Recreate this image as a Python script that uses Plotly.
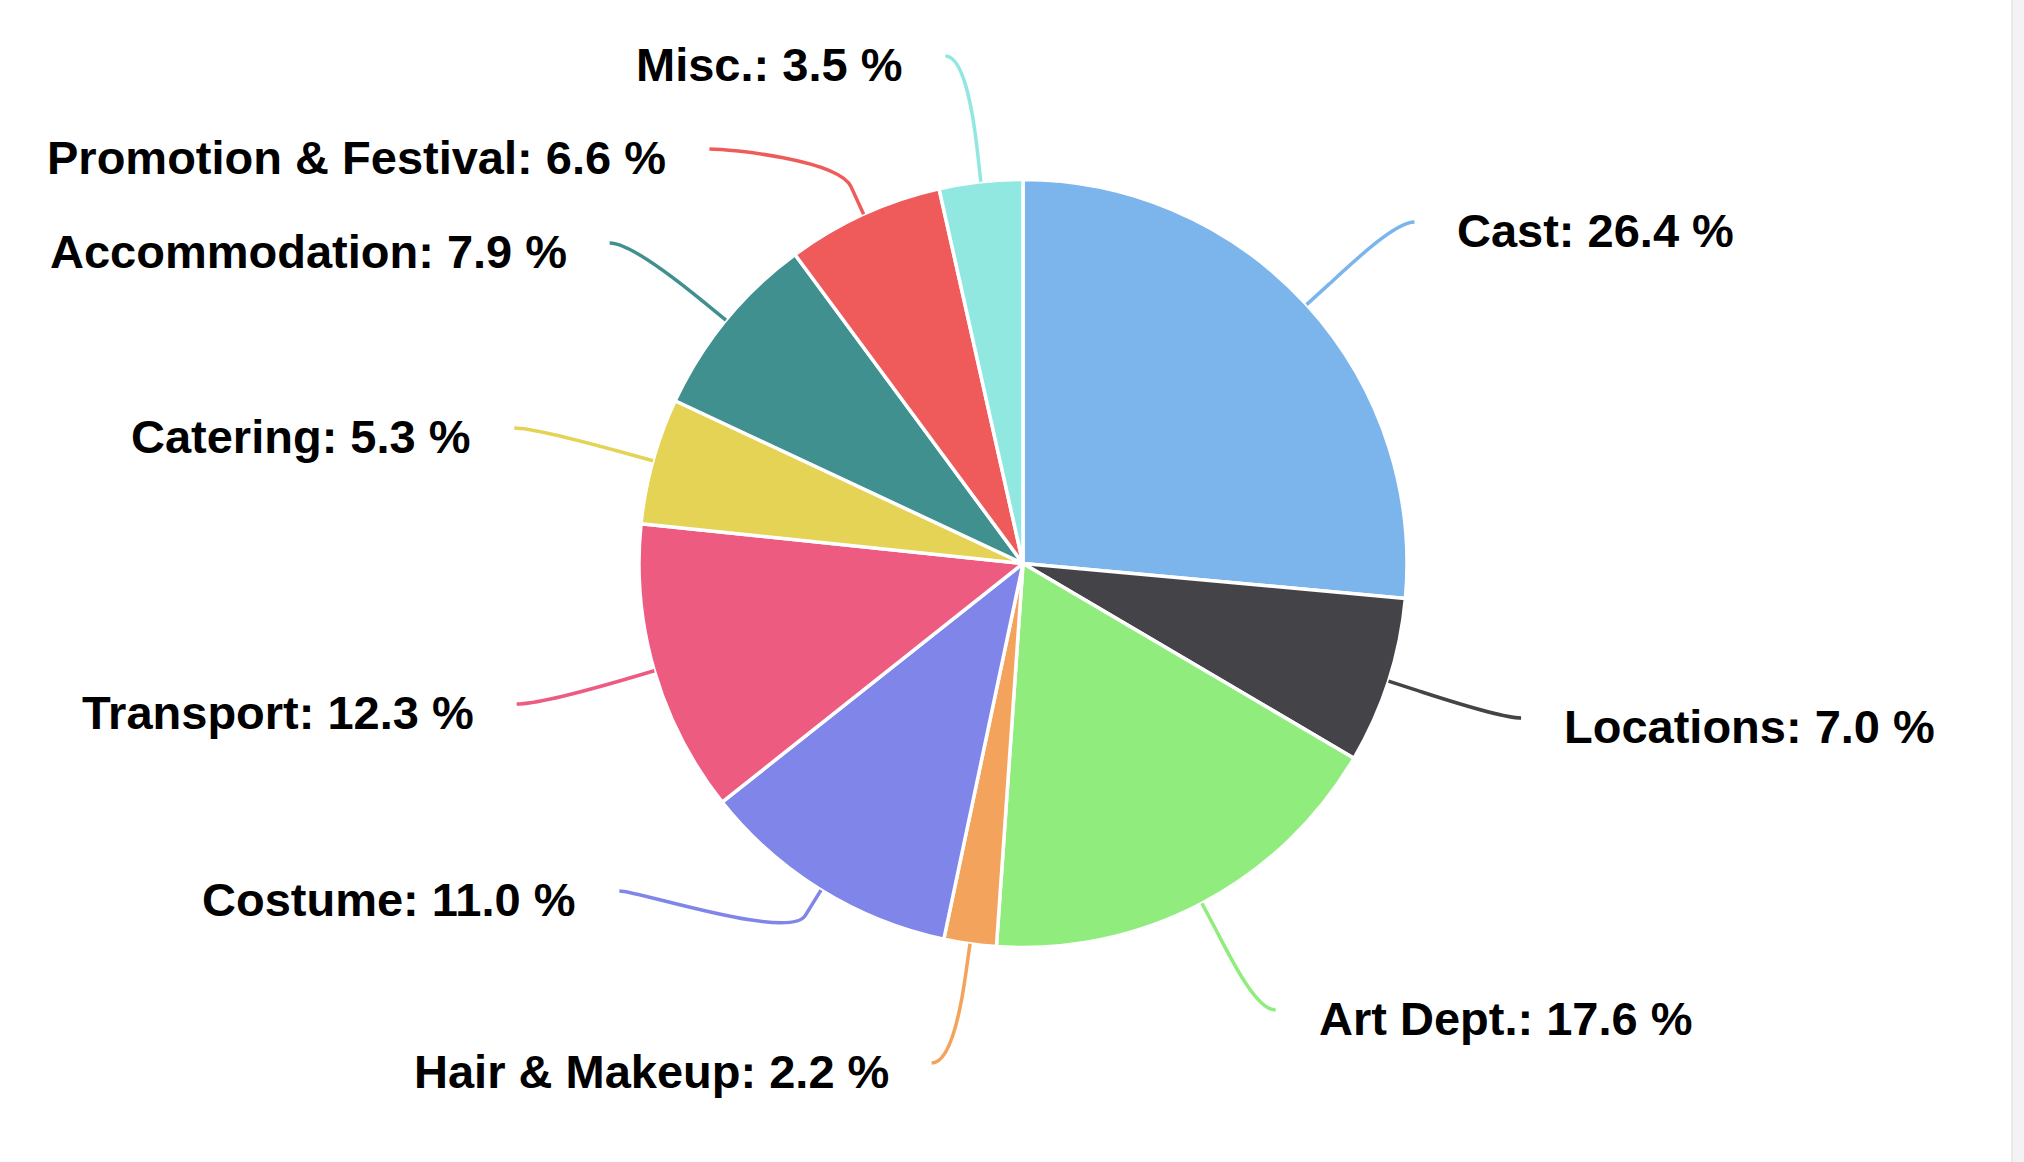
import numpy as np
import plotly.graph_objects as go

# ---------------- data ----------------
CATEGORIES = ["Cast", "Locations", "Art Dept.", "Hair & Makeup", "Costume",
              "Transport", "Catering", "Accommodation", "Promotion & Festival", "Misc."]
VALUES = [26.4, 7.0, 17.6, 2.2, 11.0, 12.3, 5.3, 7.9, 6.6, 3.5]

# ---------------- styling / layout ----------------
COLORS = ["#7cb5ec", "#444448", "#90ed7d", "#f4a35c", "#8085e9",
          "#ee5b80", "#e4d354", "#40908f", "#ef5a5b", "#91e8e1"]
# vertical placement of the data labels (pixels from top), as arranged in the reference
LABEL_Y = [222, 718, 1010, 1063, 891, 704, 428, 243, 149, 56]
LABEL_X_NUDGE = [0, 0, -8, 31, 0, -4, -5, -4, -3, 0]

W, H = 2024, 1162
CX, CY, R = 1023, 563.5, 384
LABEL_R = 512
PAD = 10
BREAK = 30
TEXT_GAP = 41
FONT = "Liberation Sans, Arial, sans-serif"

fig = go.Figure()

fig.add_trace(go.Pie(
    labels=CATEGORIES, values=VALUES, sort=False, direction="clockwise", rotation=0,
    marker=dict(colors=COLORS, line=dict(color="white", width=3.5)),
    textinfo="none", hoverinfo="label+percent", showlegend=False,
    domain=dict(x=[(CX - R) / W, (CX + R) / W], y=[1 - (CY + R) / H, 1 - (CY - R) / H]),
))

total = float(np.sum(VALUES))
cum = np.cumsum([0] + VALUES[:-1])
shapes = []
annotations = []
for i, (cat, v) in enumerate(zip(CATEGORIES, VALUES)):
    mid = (cum[i] + v / 2) / total * 2 * np.pi
    dx, dy = np.sin(mid), -np.cos(mid)
    left = dx < 0
    sgn = -1 if left else 1
    Tx, Ty = CX + R * dx, CY + R * dy
    Bx, By = CX + (R + BREAK) * dx, CY + (R + BREAK) * dy
    Ly = LABEL_Y[i]
    rel = np.clip((Ly - CY) / LABEL_R, -1, 1)
    Lx = CX + sgn * (np.sqrt(1 - rel ** 2) * LABEL_R + PAD) + LABEL_X_NUDGE[i]
    c1x = Lx - sgn * 20
    path = (f"M {Lx:.1f},{Ly:.1f} C {c1x:.1f},{Ly:.1f} {2*Bx-Tx:.1f},{2*By-Ty:.1f} "
            f"{Bx:.1f},{By:.1f} L {Tx:.1f},{Ty:.1f}")
    shapes.append(dict(type="path", path=path, xref="x", yref="y",
                       line=dict(color=COLORS[i], width=3.5), layer="above"))
    annotations.append(dict(
        x=Lx + sgn * TEXT_GAP, y=Ly + 8, xref="x", yref="y",
        text=f"<b>{cat}: {v:.1f} %</b>", showarrow=False,
        xanchor="right" if left else "left", yanchor="middle",
        font=dict(family=FONT, size=47, color="#000000"),
    ))

# light strip at the right edge of the page
shapes.append(dict(type="rect", xref="x", yref="y", x0=2012, x1=2024, y0=0, y1=H,
                   fillcolor="#f3f3f5", line=dict(width=0), layer="below"))
shapes.append(dict(type="line", xref="x", yref="y", x0=2012, x1=2012, y0=0, y1=H,
                   line=dict(color="#e4e4e8", width=1.5), layer="below"))

fig.update_layout(
    width=W, height=H, margin=dict(l=0, r=0, t=0, b=0),
    paper_bgcolor="white", plot_bgcolor="white",
    xaxis=dict(range=[0, W], visible=False, fixedrange=True),
    yaxis=dict(range=[H, 0], visible=False, fixedrange=True),
    shapes=shapes, annotations=annotations,
)

fig.write_html("out.html", config={"displayModeBar": False},
               post_script="document.body.style.margin='0';")
